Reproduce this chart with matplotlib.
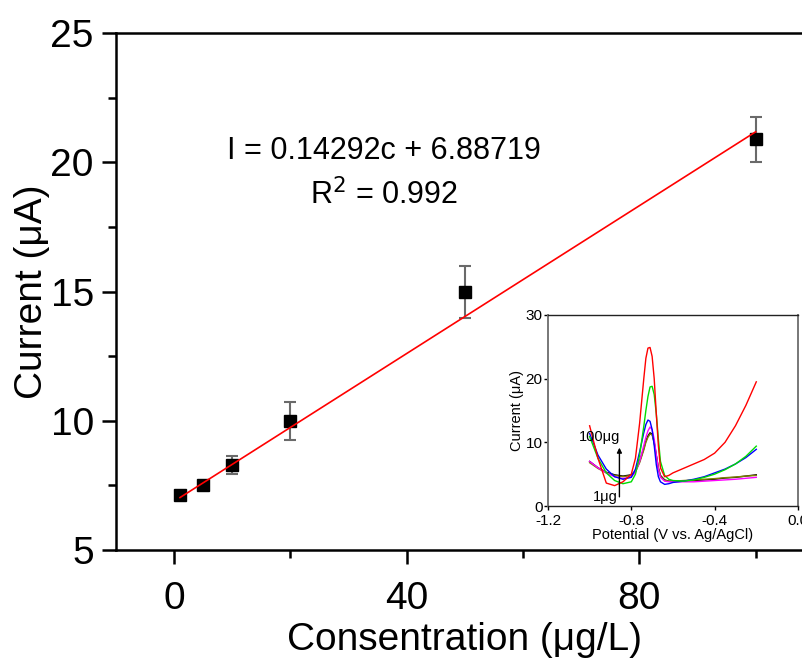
import numpy as np
import matplotlib
matplotlib.use("Agg")
import matplotlib.pyplot as plt
from matplotlib.ticker import MultipleLocator

plt.rcParams['font.family'] = ['Liberation Sans', 'DejaVu Sans']

# calibration data
conc = [1, 5, 10, 20, 50, 100]
current = [7.13, 7.51, 8.29, 10.0, 14.99, 20.9]
err = [0.0, 0.0, 0.35, 0.74, 1.0, 0.87]
slope, intercept = 0.14292, 6.88719

# inset DPV curves
potential = [-1.00, -0.96, -0.92, -0.88, -0.84, -0.80, -0.78, -0.76, -0.74, -0.73,
             -0.72, -0.71, -0.70, -0.69, -0.68, -0.67, -0.66, -0.64, -0.62, -0.60,
             -0.55, -0.50, -0.45, -0.40, -0.35, -0.30, -0.25, -0.20]
i_black = [7.0, 6.0, 5.3, 4.9, 4.7, 4.9, 5.5, 7.0, 9.0, 10.2, 11.0, 11.5, 11.3, 10.0,
           8.0, 6.0, 4.8, 4.1, 3.9, 3.9, 3.9, 4.0, 4.1, 4.2, 4.4, 4.5, 4.7, 4.9]
i_olive = [6.8, 5.9, 5.2, 4.8, 4.6, 4.8, 5.4, 6.8, 8.8, 10.0, 10.8, 11.3, 11.2, 9.9,
           7.9, 5.9, 4.7, 4.0, 3.9, 3.9, 4.0, 4.1, 4.2, 4.3, 4.45, 4.55, 4.7, 4.8]
i_magenta = [7.0, 6.0, 5.2, 4.6, 4.3, 4.6, 5.3, 7.0, 9.5, 10.8, 11.8, 12.4, 12.0, 10.5,
             8.0, 5.8, 4.5, 3.9, 3.8, 3.8, 3.8, 3.8, 3.9, 4.0, 4.1, 4.2, 4.35, 4.5]
i_blue = [11.4, 8.0, 5.8, 4.6, 4.2, 4.5, 5.8, 8.5, 11.5, 12.8, 13.5, 13.3, 12.0, 9.5,
          6.5, 4.6, 3.8, 3.4, 3.5, 3.7, 3.9, 4.2, 4.6, 5.2, 5.8, 6.6, 7.6, 8.9]
i_green = [10.9, 7.5, 5.2, 4.0, 3.5, 3.8, 5.0, 8.0, 12.5, 15.0, 17.2, 18.7, 18.8, 17.5,
           14.5, 10.5, 7.0, 4.8, 4.2, 4.0, 3.9, 4.1, 4.5, 5.0, 5.7, 6.6, 7.8, 9.4]
i_red = [12.6, 7.5, 3.6, 3.2, 3.8, 5.0, 7.5, 13.0, 20.0, 23.2, 24.8, 24.9, 23.5, 20.0,
         14.5, 9.5, 6.0, 4.6, 4.8, 5.2, 5.9, 6.6, 7.3, 8.3, 10.0, 12.6, 15.8, 19.5]

fig = plt.figure(figsize=(8.03, 6.58), dpi=100)
ax = fig.add_axes([0.1445, 0.1641, 0.869, 0.7857])

ax.errorbar(conc, current, yerr=err, fmt='s', color='black', ms=9,
            ecolor='#6a6a6a', elinewidth=1.5, capsize=4, capthick=1.5, zorder=3)
xfit = np.array([conc[0], conc[-1]])
ax.plot(xfit, slope * xfit + intercept, color='red', lw=1.2, zorder=4)

ax.set_xlim(-10, 110)
ax.set_ylim(5, 25)
ax.xaxis.set_major_locator(MultipleLocator(40))
ax.xaxis.set_minor_locator(MultipleLocator(20))
ax.yaxis.set_major_locator(MultipleLocator(5))
ax.yaxis.set_minor_locator(MultipleLocator(2.5))
ax.spines['right'].set_visible(False)
for s in ['left', 'bottom', 'top']:
    ax.spines[s].set_linewidth(1.8)
ax.tick_params(which='both', direction='out', width=1.8, labelsize=28, top=False)
ax.tick_params(axis='x', which='major', length=10, pad=12)
ax.tick_params(axis='y', which='major', length=10, pad=6)
ax.tick_params(which='minor', length=6)
ax.set_xlabel('Consentration (μg/L)', fontsize=28, labelpad=4)
ax.set_ylabel('Current (μA)', fontsize=28, labelpad=0)

ax.text(0.384, 0.772, 'I = 0.14292c + 6.88719', transform=ax.transAxes,
        ha='center', va='center', fontsize=22)
ax.text(0.384, 0.686, 'R$^2$ = 0.992', transform=ax.transAxes,
        ha='center', va='center', fontsize=22)

# inset
ins = fig.add_axes([0.6824, 0.231, 0.3113, 0.2903])
ins.plot(potential, i_black, color='black', lw=1)
ins.plot(potential, i_olive, color='#808000', lw=1)
ins.plot(potential, i_magenta, color='magenta', lw=1)
ins.plot(potential, i_blue, color='blue', lw=1)
ins.plot(potential, i_green, color='#00dd00', lw=1)
ins.plot(potential, i_red, color='red', lw=1)
ins.annotate('', xy=(-0.857, 9.6), xytext=(-0.857, 1.0),
             arrowprops=dict(arrowstyle='-|>', color='black', lw=1, mutation_scale=7))
ins.text(-0.855, 10.9, '100μg', ha='right', va='center', fontsize=10.5)
ins.text(-0.865, 1.4, '1μg', ha='right', va='center', fontsize=10.5)

ins.set_xlim(-1.2, 0.0)
ins.set_ylim(0, 30)
ins.set_xticks([-1.2, -0.8, -0.4, 0.0])
ins.set_xticklabels(['-1.2', '-0.8', '-0.4', '0.0'])
ins.set_yticks([0, 10, 20, 30])
for s in ['top', 'bottom']:
    ins.spines[s].set_color('#222222')
    ins.spines[s].set_linewidth(1)
for s in ['left', 'right']:
    ins.spines[s].set_color('#777777')
    ins.spines[s].set_linewidth(1.4)
ins.tick_params(which='major', direction='out', length=3, width=1, labelsize=11, pad=1)
ins.tick_params(axis='x', pad=3)
ins.set_xlabel('Potential (V vs. Ag/AgCl)', fontsize=10.5, labelpad=0)
ins.set_ylabel('Current (μA)', fontsize=10.5, labelpad=1)

fig.savefig('out.png', dpi=100)
